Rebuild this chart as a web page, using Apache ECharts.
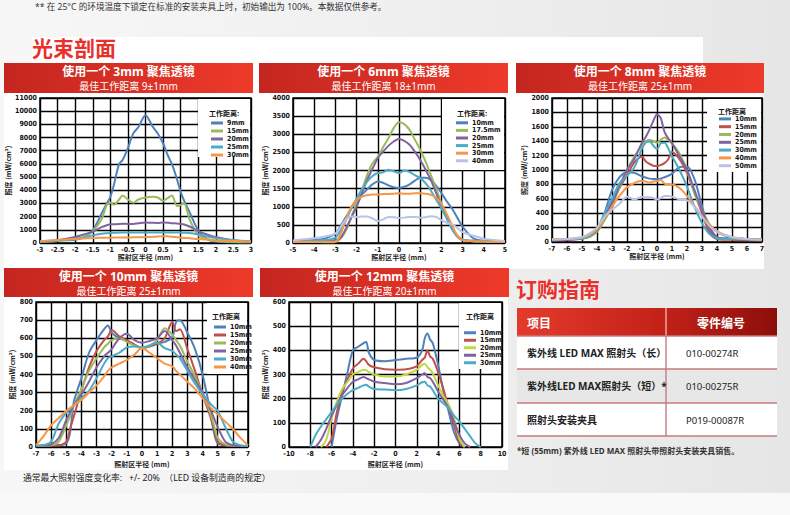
<!DOCTYPE html>
<html><head><meta charset="utf-8">
<script src="https://cdn.jsdelivr.net/npm/echarts@6/dist/echarts.min.js"></script>
<style>
html,body{margin:0;padding:0;}
body{width:790px;height:515px;overflow:hidden;position:relative;background:linear-gradient(90deg,#f7f7f7 0%,#efefef 55%,#e6e6e6 100%);}
.p{position:absolute;background:#fff;}
#chart{position:absolute;left:0;top:0;width:790px;height:515px;}
</style></head><body>
<div class="p" style="left:32px;top:37px;width:671px;height:26px"></div>
<div class="p" style="left:4px;top:63px;width:760px;height:206px"></div>
<div class="p" style="left:4px;top:269px;width:504px;height:201px"></div>
<div style="position:absolute;left:0;top:493px;width:790px;height:22px;background:#f9f9f9"></div>
<div id="chart"></div>
<script>
// ---------- DATA ----------
// Chart 1: 3mm lens (radius mm -> mW/cm2)
const r3X = [-3,-2.5,-2,-1.75,-1.5,-1.25,-1.1,-1,-0.9,-0.75,-0.65,-0.5,-0.35,-0.2,0,0.2,0.35,0.5,0.65,0.75,0.9,1,1.1,1.25,1.5,1.75,2,2.5,3];
const r3_9mm  = [100,200,250,450,960,2230,3000,3500,4400,6000,6300,7200,8300,8800,9700,8850,8300,7550,6550,6000,4800,3880,3200,2360,960,300,120,60,60];
const r3_15mm = [100,150,350,450,900,1800,2900,3050,2900,3300,3600,3300,3050,3300,3450,3500,3450,3200,3450,3600,2800,2900,3000,1800,600,300,150,80,50];
const r3_20mm = [50,200,450,650,850,1200,1350,1400,1420,1450,1460,1450,1450,1500,1550,1530,1520,1550,1530,1500,1480,1450,1400,1250,900,650,450,200,80];
const r3_25mm = [80,180,300,420,580,700,740,760,780,790,800,800,800,800,800,800,800,800,800,800,800,790,780,760,650,500,380,200,130];
const r3_30mm = [130,220,300,340,380,400,400,400,410,410,415,420,430,440,450,470,490,520,500,480,440,400,380,360,300,260,200,150,100];

// Chart 2: 6mm lens
const r6X = [-5,-4.5,-4,-3.5,-3,-2.75,-2.5,-2.25,-2,-1.75,-1.5,-1.25,-1,-0.75,-0.5,-0.25,0,0.25,0.5,0.75,1,1.25,1.5,1.75,2,2.25,2.5,2.75,3,3.5,4,4.5,5];
const r6_10mm   = [30,50,80,120,260,480,720,950,1180,1340,1480,1620,1700,1660,1590,1540,1520,1550,1620,1720,1800,1800,1740,1580,1380,1150,950,700,450,130,60,40,30];
const r6_17_5mm = [30,30,30,20,30,120,350,720,1090,1460,1880,2200,2380,2640,2890,3170,3330,3280,3120,2850,2570,2250,1880,1510,1090,720,400,210,90,50,40,30,30];
const r6_20mm   = [50,60,60,60,80,150,400,700,1000,1370,1740,2050,2340,2520,2680,2800,2870,2820,2710,2520,2290,2030,1740,1380,1000,700,400,180,80,60,50,40,30];
const r6_25mm   = [50,50,60,80,150,350,630,950,1230,1480,1690,1850,1930,1950,2020,1980,1930,1990,1960,1870,1790,1650,1450,1200,950,680,380,180,90,60,50,40,30];
const r6_30mm   = [30,30,30,30,40,250,670,1000,1180,1280,1320,1340,1340,1350,1350,1360,1370,1360,1360,1370,1370,1360,1330,1250,1090,800,500,200,80,50,40,30,30];
const r6_40mm   = [70,100,130,180,260,450,650,730,720,730,730,680,600,650,720,710,690,700,720,720,700,710,740,720,630,560,520,420,300,200,120,80,50];

// Chart 3: 8mm lens
const r8X = [-7,-6,-5,-4.5,-4,-3.5,-3,-2.5,-2,-1.5,-1,-0.75,-0.5,-0.25,0,0.25,0.5,0.75,1,1.5,2,2.5,3,3.5,4,4.5,5,6,7];
const r8_10mm = [30,40,60,100,150,400,720,900,970,960,910,895,880,875,875,880,900,920,950,1040,1050,870,500,180,60,50,40,30,30];
const r8_15mm = [20,30,50,80,150,350,560,750,930,1110,1185,1120,1085,1060,1055,1070,1095,1150,1250,1150,960,680,400,130,40,30,30,25,20];
const r8_20mm = [40,40,50,70,140,300,490,760,1000,1190,1340,1400,1420,1400,1380,1420,1450,1420,1370,1230,1000,680,440,250,140,90,60,40,40];
const r8_25mm = [25,30,45,80,160,350,535,780,1000,1160,1380,1460,1560,1680,1770,1720,1530,1440,1370,1190,1000,720,440,210,70,50,60,40,30];
const r8_30mm = [40,40,50,80,180,400,600,820,920,1040,1300,1380,1400,1340,1290,1370,1380,1300,1190,1000,770,490,260,110,50,40,40,35,30];
const r8_40mm = [40,40,60,100,180,330,490,640,760,820,850,840,825,840,845,860,810,800,800,750,640,500,360,240,150,100,60,40,30];
const r8_50mm = [30,40,70,120,200,350,450,530,630,590,630,620,620,610,590,610,640,640,630,590,580,490,350,220,140,100,70,40,30];

// Chart 4: 10mm lens
const r10X = [-7,-6.5,-6,-5.5,-5,-4.75,-4.5,-4,-3.5,-3,-2.5,-2.25,-2,-1.5,-1,-0.5,0,0.5,1,1.5,2,2.25,2.5,3,3.5,4,4.5,4.75,5,5.5,6,6.5,7];
const r10_10mm = [5,8,10,10,20,80,250,380,520,590,650,670,630,600,585,565,545,555,570,580,605,690,700,630,540,400,200,80,20,10,8,5,5];
const r10_15mm = [5,8,10,10,30,100,170,310,440,530,590,610,645,610,590,565,545,555,570,600,690,640,650,540,420,290,170,100,30,10,8,5,5];
const r10_20mm = [5,8,10,30,120,170,230,320,420,490,550,570,590,600,580,560,545,560,590,655,620,590,560,470,390,300,190,120,50,15,8,5,5];
const r10_25mm = [5,8,15,50,150,190,230,290,360,440,500,520,540,600,625,590,575,585,600,640,590,560,520,440,370,300,210,160,110,30,10,5,5];
const r10_30mm = [5,10,30,130,190,210,230,270,310,380,460,490,500,520,550,555,550,560,575,545,530,510,490,420,350,290,240,220,200,110,30,10,5];
const r10_40mm = [10,60,120,160,200,215,230,260,300,340,390,420,440,460,480,510,545,520,490,460,445,420,400,360,320,270,220,200,180,140,100,50,10];

// Chart 5: 12mm lens
const r12X = [-8,-7.5,-7,-6.5,-6,-5.5,-5,-4.5,-4,-3.5,-3,-2.75,-2.5,-2,-1,0,1,2,2.5,2.75,3,3.25,3.5,4,4.5,5,5.5,6,6.5,7,7.5,8];
const r12_10mm = [null,null,null,null,0,120,215,310,400,415,430,435,390,360,355,360,365,370,400,450,470,445,430,340,230,145,60,15,0,null,null,null];
const r12_15mm = [null,null,null,0,35,145,230,280,325,345,365,355,340,330,322,320,322,335,360,370,400,375,365,310,240,160,90,20,0,null,null,null];
const r12_20mm = [null,null,0,30,118,190,240,270,300,310,320,318,310,300,292,292,300,320,340,345,330,320,305,255,210,175,118,35,0,null,null,null];
const r12_25mm = [null,0,30,75,130,175,215,245,270,280,290,285,280,270,265,260,265,285,300,305,290,285,270,230,195,160,105,50,15,0,null,null];
const r12_30mm = [0,50,85,115,145,175,200,220,235,245,255,258,250,240,238,235,240,255,268,270,255,250,235,200,180,160,130,105,75,45,15,0];

// Labels / texts
const bannerTitles = ['使用一个 3mm 聚焦透镜','使用一个 6mm 聚焦透镜','使用一个 8mm 聚焦透镜','使用一个 10mm 聚焦透镜','使用一个 12mm 聚焦透镜'];
const bannerSubs = ['最佳工作距离 9±1mm','最佳工作距离 18±1mm','最佳工作距离 25±1mm','最佳工作距离 25±1mm','最佳工作距离 20±1mm'];
const legendTitles = ['工作距离:','工作距离:','工作距离','工作距离','工作距离'];
const tableHead = ['项目','零件编号'];
const tableItems = ['紫外线 LED MAX 照射头（长）','紫外线LED MAX照射头（短）*','照射头安装夹具'];
const tableParts = ['010-00274R','010-00275R','P019-00087R'];

// ---------- STYLE ----------
const COL = {blue:'#4f81bd', red:'#c0504d', green:'#9bbb59', purple:'#8064a2', teal:'#4bacc6', orange:'#f79646', lav:'#b8c3e6', lime:'#c2d640'};
const NUMF = "'Liberation Sans Narrow','DejaVu Sans Condensed','Liberation Sans',sans-serif";
const CJK = "'Noto Sans CJK SC','Noto Sans',sans-serif";
const MIX = "'Noto Sans','Noto Sans CJK SC',sans-serif";

const charts = [
  {grid:[40,98,211,145], xr:[-3,3,0.5], yr:[0,11000,1000], x:r3X, yGap:16, xGap:10,
   s:[['9mm',r3_9mm,COL.blue],['15mm',r3_15mm,COL.green],['20mm',r3_20mm,COL.purple],['25mm',r3_25mm,COL.teal],['30mm',r3_30mm,COL.orange]],
   lg:[211,119,8], box:[198,98,53,59], lt:[209,113], bn:[4,63,249,30]},
  {grid:[293,98,212,145], xr:[-5,5,1], yr:[0,4000,500], x:r6X, yGap:14, xGap:10,
   s:[['10mm',r6_10mm,COL.blue],['17.5mm',r6_17_5mm,COL.green],['20mm',r6_20mm,COL.purple],['25mm',r6_25mm,COL.teal],['30mm',r6_30mm,COL.orange],['40mm',r6_40mm,COL.lav]],
   lg:[456,119,7.6], box:[442,98,63,72], lt:[457,113], bn:[259,63,249,30]},
  {grid:[552,98,210,144], xr:[-7,7,1], yr:[0,2000,200], x:r8X, yGap:21, xGap:10,
   s:[['10mm',r8_10mm,COL.blue],['15mm',r8_15mm,COL.red],['20mm',r8_20mm,COL.green],['25mm',r8_25mm,COL.purple],['30mm',r8_30mm,COL.teal],['40mm',r8_40mm,COL.orange],['50mm',r8_50mm,COL.lav]],
   lg:[719,115,7.8], box:[707,98,55,74], lt:[718,111], bn:[516,63,248,30]},
  {grid:[36,302,212,145], xr:[-7,7,1], yr:[0,800,100], x:r10X, yGap:15, xGap:13,
   s:[['10mm',r10_10mm,COL.blue],['15mm',r10_15mm,COL.red],['20mm',r10_20mm,COL.green],['25mm',r10_25mm,COL.purple],['30mm',r10_30mm,COL.teal],['40mm',r10_40mm,COL.orange]],
   lg:[214,323,8], box:[207,302,41,72], lt:[212,316], bn:[4,268,249,29]},
  {grid:[289,302,213,145], xr:[-10,10,2], yr:[0,600,100], x:r12X, yGap:13, xGap:13,
   s:[['10mm',r12_10mm,COL.blue],['15mm',r12_15mm,COL.red],['20mm',r12_20mm,COL.lime],['25mm',r12_25mm,COL.purple],['30mm',r12_30mm,COL.teal]],
   lg:[464,329,7.5], box:[459,302,43,67], lt:[466,316], bn:[260,268,249,29]}
];

const option = {animation:false, grid:[], xAxis:[], yAxis:[], series:[], legend:[], graphic:[]};
const G = option.graphic;
function txt(x,y,text,font,fill,align,valign,z){
  G.push({type:'text', x:x, y:y, z:z||6, silent:true,
    style:{text:text, font:font, fill:fill, align:align||'left', textAlign:align||'left',
           verticalAlign:valign||'middle', textVerticalAlign:valign||'middle'}});
}
function rect(x,y,w,h,fill,z){
  G.push({type:'rect', z:z||1, silent:true, shape:{x:x,y:y,width:w,height:h}, style:{fill:fill}});
}
function line(x1,y1,x2,y2,stroke,w,z){
  G.push({type:'line', z:z||2, silent:true, shape:{x1:x1,y1:y1,x2:x2,y2:y2}, style:{stroke:stroke,lineWidth:w}});
}
const bannerGrad = {type:'linear',x:0,y:0,x2:1,y2:0,colorStops:[{offset:0,color:'#c4261f'},{offset:1,color:'#ee3a2b'}]};

charts.forEach((c,i)=>{
  option.grid.push({left:c.grid[0], top:c.grid[1], width:c.grid[2], height:c.grid[3], show:true,
    backgroundColor:'#fff', borderColor:'#000', borderWidth:1.5, z:0});
  option.xAxis.push({gridIndex:i, type:'value', min:c.xr[0], max:c.xr[1], interval:c.xr[2],
    axisLine:{show:false}, axisTick:{show:false},
    splitLine:{show:true, lineStyle:{color:'#000', width:1.4}},
    axisLabel:{fontSize:7, fontWeight:'bold', color:'#111', margin:3, fontFamily:NUMF, formatter:v=>String(v)},
    name:'照射区半径 (mm)', nameLocation:'middle', nameGap:c.xGap,
    nameTextStyle:{fontSize:7, fontWeight:'bold', color:'#222', fontFamily:CJK}});
  option.yAxis.push({gridIndex:i, type:'value', min:c.yr[0], max:c.yr[1], interval:c.yr[2],
    axisLine:{show:false}, axisTick:{show:false},
    splitLine:{show:true, lineStyle:{color:'#000', width:1.4}},
    axisLabel:{fontSize:7, fontWeight:'bold', color:'#111', margin:3, fontFamily:NUMF, formatter:v=>String(v)},
    name:'照度 (mW/cm²)', nameLocation:'middle', nameGap:c.yGap,
    nameTextStyle:{fontSize:7, fontWeight:'bold', color:'#222', fontFamily:CJK}});
  const names = [];
  c.s.forEach(s=>{
    const nm = 'c'+i+'|'+s[0];
    names.push(nm);
    option.series.push({type:'line', name:nm, xAxisIndex:i, yAxisIndex:i, smooth:0.3,
      showSymbol:false, symbol:'none', silent:true, z:2, connectNulls:false,
      color:s[2], lineStyle:{width:2, color:s[2]}, itemStyle:{color:s[2]},
      data:c.x.map((xv,k)=>[xv, s[1][k]==null ? '-' : s[1][k]])});
  });
  option.legend.push({data:names, orient:'vertical', left:c.lg[0], top:c.lg[1], padding:0, itemGap:0,
    itemWidth:12, itemHeight:3, icon:'rect', selectedMode:false, z:6,
    textStyle:{fontSize:7, lineHeight:c.lg[2], fontWeight:'bold', color:'#111', fontFamily:NUMF, padding:[0,0,0,-1]},
    formatter:n=>n.split('|')[1]});
  // legend box
  rect(c.box[0], c.box[1]+1, c.box[2]-1, c.box[3]-1, '#fff', 4);
  txt(c.lt[0], c.lt[1], legendTitles[i], 'bold 7px '+CJK, '#111', 'left', 'middle', 6);
  // banner
  rect(c.bn[0], c.bn[1], c.bn[2], c.bn[3], bannerGrad, 1);
  const cx = c.bn[0] + c.bn[2]/2;
  txt(cx, c.bn[1]+8.5, bannerTitles[i], 'bold 12px '+MIX, '#fff', 'center', 'middle', 2);
  txt(cx, c.bn[1]+22.5, bannerSubs[i], '10px '+MIX, '#fff', 'center', 'middle', 2);
});

// page texts
txt(35, 6.5, '** 在 25°C 的环境温度下锁定在标准的安装夹具上时，初始输出为 100%。本数据仅供参考。', '8.6px '+MIX, '#333', 'left', 'middle', 2);
txt(32, 47, '光束剖面', 'bold 21px '+CJK, '#e8312a', 'left', 'middle', 2);
txt(516, 288, '订购指南', 'bold 21px '+CJK, '#e8312a', 'left', 'middle', 2);
txt(23, 478, '通常最大照射强度变化率:   +/- 20%  （LED 设备制造商的规定）', '8.8px '+MIX, '#222', 'left', 'middle', 2);

// table
const headGrad = {type:'linear',x:0,y:0,x2:1,y2:0,colorStops:[{offset:0,color:'#e43a2c'},{offset:0.55,color:'#c42219'},{offset:1,color:'#8c0e0a'}]};
rect(517,308,260,28,headGrad,1);
rect(517,336,260,33,'#fff',1);
rect(517,369,260,34,'#e7e7e7',1);
rect(517,403,260,33,'#fff',1);
line(666,308,666,336,'#e8a49c',1.5,2);
line(666,336,666,436,'#c98686',1.5,2);
[336,369,403,436].forEach(y=>line(517,y,777,y,'#c47a7a',1.5,2));
txt(527,322,tableHead[0],'bold 12px '+CJK,'#fff','left','middle',3);
txt(721,322,tableHead[1],'bold 12px '+CJK,'#fff','center','middle',3);
const rowY = [353,386,420];
tableItems.forEach((t,k)=>txt(527,rowY[k],t,'bold 10px '+MIX,'#222','left','middle',3));
tableParts.forEach((t,k)=>txt(686,rowY[k],t,'9.5px '+MIX,'#222','left','middle',3));
txt(517,450,'*短 (55mm) 紫外线 LED MAX 照射头带照射头安装夹具销售。','bold 8px '+MIX,'#333','left','middle',3);

const chart = echarts.init(document.getElementById('chart'), null, {renderer:'svg', width:790, height:515});
chart.setOption(option);
</script>
</body></html>
